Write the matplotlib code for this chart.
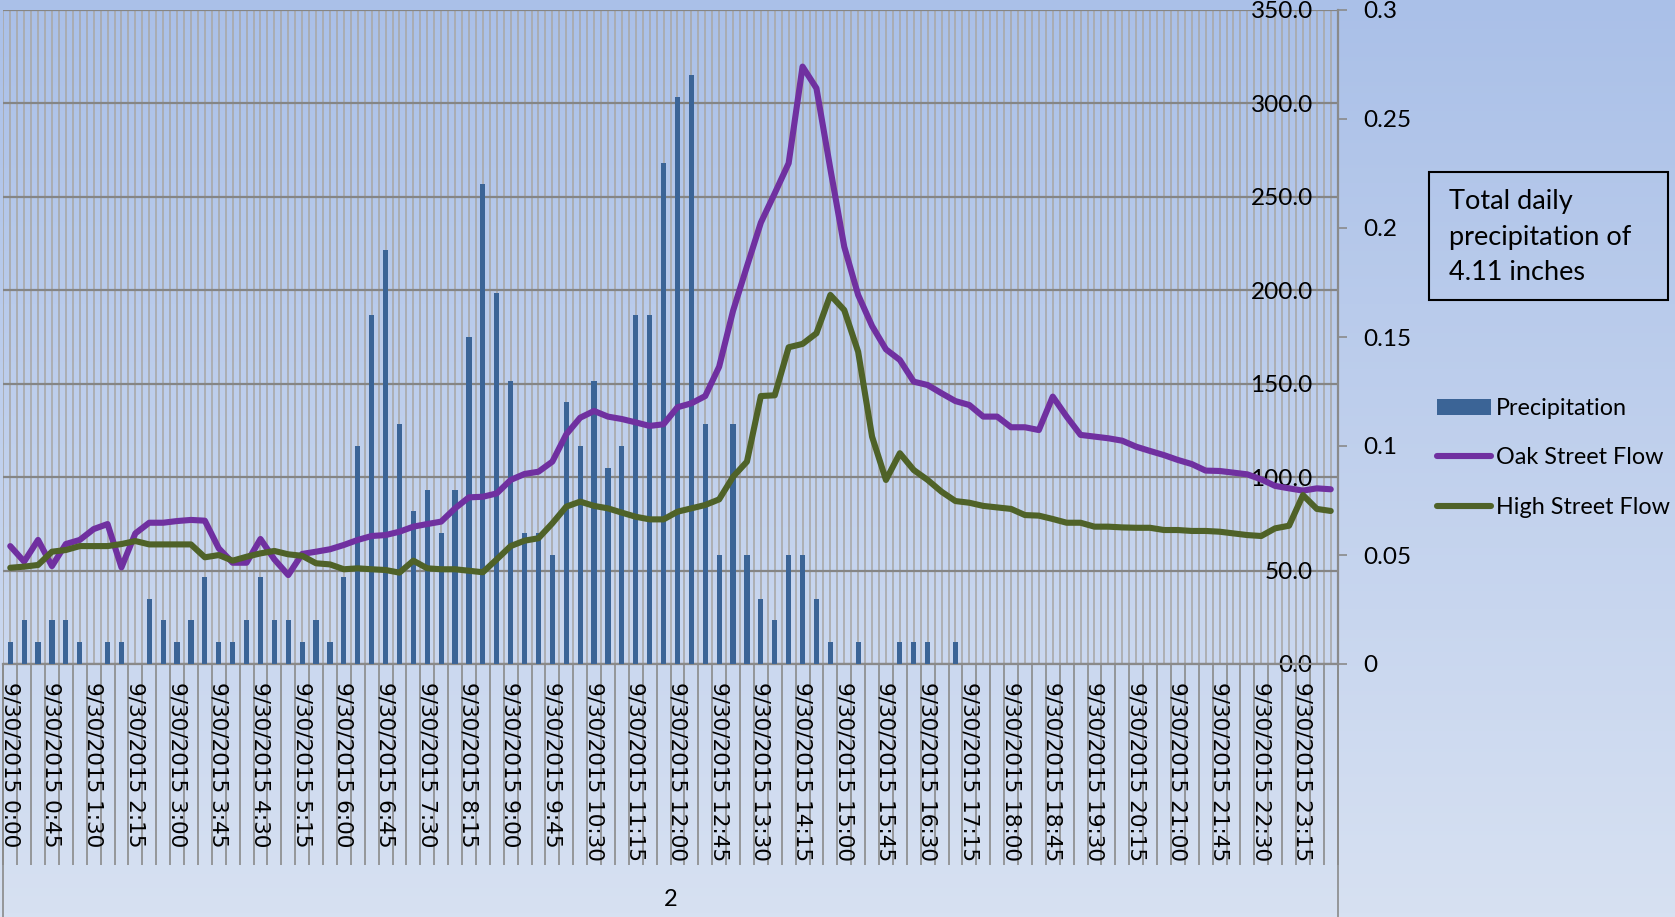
import numpy as np
import matplotlib
matplotlib.use("Agg")
import matplotlib.pyplot as plt
from matplotlib.patches import Rectangle
from matplotlib.colors import LinearSegmentedColormap
from matplotlib.ticker import FixedLocator, FixedFormatter, MultipleLocator, NullFormatter, FuncFormatter

# 15 minute readings for 9/30/2015
times = ["9/30/2015 %d:%02d" % (h, m) for h in range(24) for m in (0, 15, 30, 45)]

# precipitation, inches per 15 min (right axis)
precip = [0.01, 0.02, 0.01, 0.02, 0.02, 0.01, 0.00, 0.01, 0.01, 0.00,
          0.03, 0.02, 0.01, 0.02, 0.04, 0.01, 0.01, 0.02, 0.04, 0.02,
          0.02, 0.01, 0.02, 0.01, 0.04, 0.10, 0.16, 0.19, 0.11, 0.07,
          0.08, 0.06, 0.08, 0.15, 0.22, 0.17, 0.13, 0.06, 0.06, 0.05,
          0.12, 0.10, 0.13, 0.09, 0.10, 0.16, 0.16, 0.23, 0.26, 0.27,
          0.11, 0.05, 0.11, 0.05, 0.03, 0.02, 0.05, 0.05, 0.03, 0.01,
          0.00, 0.01, 0.00, 0.00, 0.01, 0.01, 0.01, 0.00, 0.01, 0.00,
          0.00, 0.00, 0.00, 0.00, 0.00, 0.00, 0.00, 0.00, 0.00, 0.00,
          0.00, 0.00, 0.00, 0.00, 0.00, 0.00, 0.00, 0.00, 0.00, 0.00,
          0.00, 0.00, 0.00, 0.00, 0.00, 0.00]

oak_flow = [63.1, 54.8, 66.4, 52.4, 64.2, 66.4, 72.2, 74.9, 51.7, 69.9,
            75.6, 75.6, 76.5, 77.1, 76.7, 61.9, 54.2, 54.2, 66.9, 56.0,
            47.6, 58.9, 60.1, 61.4, 63.7, 66.4, 68.5, 69.0, 70.8, 73.5,
            74.9, 76.2, 83.3, 89.2, 89.5, 91.3, 98.5, 101.7, 102.9, 108.3,
            122.9, 131.8, 135.4, 132.4, 131.1, 129.3, 127.4, 128.3, 137.4, 139.5,
            143.4, 159.1, 189.0, 212.8, 236.2, 251.9, 268.0, 319.7, 308.1, 265.0,
            223.3, 197.5, 180.9, 168.4, 162.7, 151.1, 149.3, 144.9, 140.7, 138.6,
            132.4, 132.4, 126.7, 126.7, 125.2, 143.1, 132.4, 122.6, 121.7, 120.8,
            119.5, 116.3, 114.0, 111.8, 109.2, 107.0, 103.5, 103.3, 102.4, 101.5,
            98.8, 95.3, 94.0, 92.8, 94.0, 93.5]

high_flow = [51.5, 52.1, 53.0, 60.1, 61.0, 63.1, 63.1, 63.1, 64.2, 65.8,
             64.0, 64.0, 64.0, 64.0, 57.1, 58.3, 55.3, 57.4, 59.2, 60.5,
             58.7, 57.9, 53.9, 53.3, 50.7, 51.2, 50.7, 50.3, 48.9, 55.3,
             51.2, 50.7, 50.7, 49.9, 49.1, 56.0, 63.1, 66.0, 67.3, 75.3,
             84.2, 86.9, 84.6, 83.3, 81.0, 78.8, 77.4, 77.4, 81.5, 83.3,
             85.1, 88.1, 100.2, 108.3, 143.4, 143.8, 169.5, 171.3, 177.0, 197.5,
             189.4, 167.1, 121.7, 98.5, 112.8, 103.8, 98.5, 92.2, 87.2, 86.3,
             84.6, 83.8, 83.0, 79.7, 79.4, 77.6, 75.6, 75.6, 73.5, 73.5,
             73.1, 72.9, 72.9, 71.7, 71.7, 71.2, 71.2, 70.8, 69.9, 69.0,
             68.5, 72.6, 74.0, 90.4, 83.0, 81.9]

W, H = 1675, 917
fig = plt.figure(figsize=(W / 100, H / 100), dpi=100)

# gradient background
bg = fig.add_axes([0, 0, 1, 1], zorder=-10)
cmap = LinearSegmentedColormap.from_list("bg", ["#d7e1f2", "#aac0e8"])
bg.imshow(np.linspace(0, 1, 256).reshape(-1, 1), aspect="auto", cmap=cmap,
          origin="lower", extent=[0, 1, 0, 1])
bg.axis("off")

L, R, B, T = 3.3 / W, 1337.7 / W, 1 - 664 / H, 1 - 10 / H
ax = fig.add_axes([L, B, R - L, T - B])
ax.patch.set_visible(False)
ax2 = ax.twinx()
ax3 = ax.twinx()

x = np.arange(len(times))
grid_col = "#a9a9a9"
axis_col = "#8a8a8a"

ax.set_xlim(-0.5, len(times) - 0.5)
ax.set_ylim(0, 350)
ax.xaxis.set_major_locator(FixedLocator(np.arange(-0.5, len(times), 1)))
ax.xaxis.set_major_formatter(NullFormatter())
ax.xaxis.set_minor_locator(FixedLocator(x))
ax.xaxis.set_minor_formatter(FixedFormatter([t if i % 3 == 0 else "" for i, t in enumerate(times)]))
ax.tick_params(axis="x", which="major", length=145, width=1.2, color=axis_col)
ax.tick_params(axis="x", which="minor", length=0, pad=13, labelsize=15.5, labelrotation=-90)
ax.grid(axis="x", which="both", color=grid_col, lw=1.2)
ax.grid(axis="y", which="major", color="#858585", lw=1.6)

ax.yaxis.set_major_locator(MultipleLocator(50))
ax.yaxis.set_major_formatter(FuncFormatter(lambda v, p: "%.1f" % v))
ax.yaxis.tick_right()
ax.tick_params(axis="y", length=0, pad=-18, labelsize=17.5)
for t in ax.yaxis.get_major_ticks():
    t.label2.set_ha("right")
    t.label2.set_fontfamily("Lato")
for s in ["top", "left", "right"]:
    ax.spines[s].set_visible(False)
ax.spines["bottom"].set_color(axis_col)
ax.spines["bottom"].set_linewidth(1.6)

# group separators and the "2" group label under the dates
for xa in (0, 1):
    ax.plot([xa, xa], [0, -0.39], transform=ax.transAxes, clip_on=False, color=axis_col, lw=1.2)
ax.text(0.5, -0.36, "2", transform=ax.transAxes, ha="center", va="center",
        fontsize=17, family="Lato")

# precipitation bars on the right axis
bars = ax2.bar(x, precip, width=0.38, color="#3b6496", label="Precipitation")
ax2.set_ylim(0, 0.3)
ax2.yaxis.set_major_locator(MultipleLocator(0.05))
ax2.yaxis.set_major_formatter(FuncFormatter(lambda v, p: "%g" % round(v, 2)))
ax2.tick_params(axis="y", length=6.5, width=1.2, color=axis_col, pad=12, labelsize=17.5)
for lab in ax2.get_yticklabels():
    lab.set_fontfamily("Lato")
for s in ["top", "left", "bottom"]:
    ax2.spines[s].set_visible(False)
ax2.spines["right"].set_color(axis_col)
ax2.spines["right"].set_linewidth(1.6)

# flows
l1, = ax3.plot(x, oak_flow, color="#7030a0", lw=4.4, solid_joinstyle="round",
               solid_capstyle="round", label="Oak Street Flow")
l2, = ax3.plot(x, high_flow, color="#4f6228", lw=4.4, solid_joinstyle="round",
               solid_capstyle="round", label="High Street Flow")
ax3.set_ylim(0, 350)
ax3.yaxis.set_visible(False)
for s in ax3.spines.values():
    s.set_visible(False)

fig.legend([bars, l1, l2], ["Precipitation", "Oak Street Flow", "High Street Flow"],
           loc="upper left", bbox_to_anchor=(1437 / W, 1 - 398 / H), frameon=False,
           prop={"family": "Lato", "size": 16.8}, handlelength=2.3, handletextpad=0.22,
           labelspacing=1.22, borderpad=0, borderaxespad=0)

fig.add_artist(Rectangle((1429 / W, 1 - 300 / H), 239 / W, 128 / H, transform=fig.transFigure,
                         fill=False, ec="black", lw=1.5))
fig.text(1449 / W, 1 - 189 / H, "Total daily\nprecipitation of\n4.11 inches", ha="left", va="top",
         fontsize=19.5, family="Lato", linespacing=1.53)

fig.savefig("out.png", dpi=100)
